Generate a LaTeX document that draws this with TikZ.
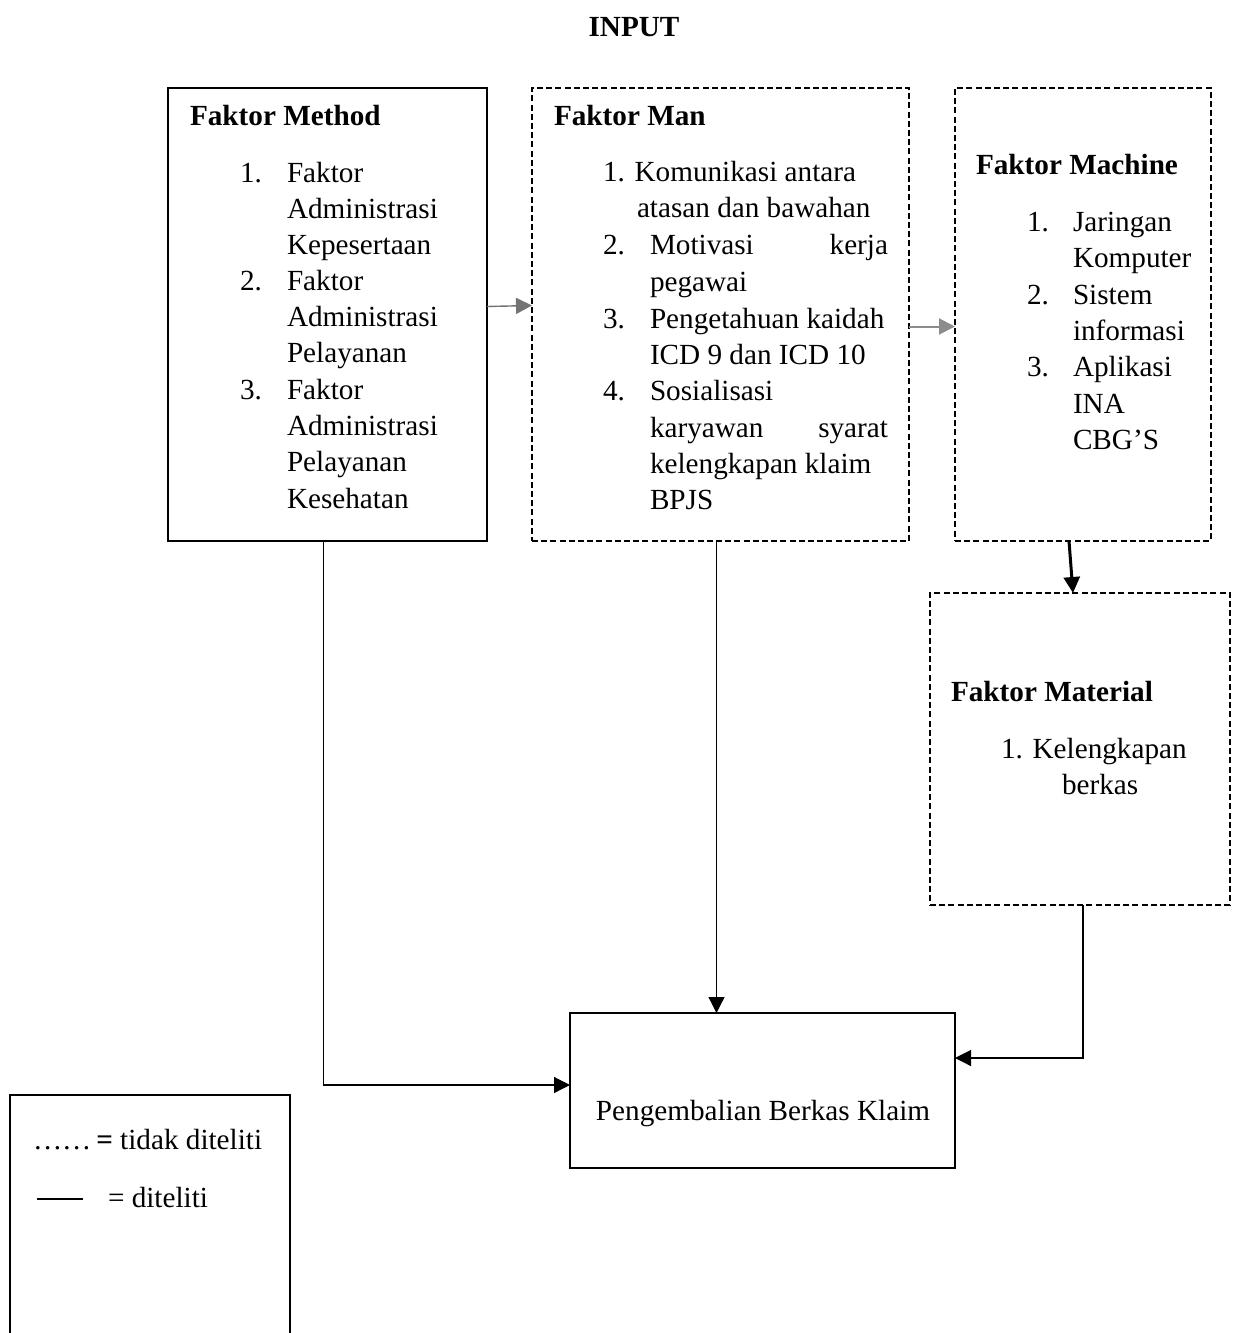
\documentclass[tikz,border=0pt]{standalone}
\usepackage{fontspec}
\setmainfont{Liberation Serif}
\usetikzlibrary{arrows.meta,calc}
\begin{document}
\begin{tikzpicture}[x=0.5pt,y=-0.5pt,
  every node/.style={font=\fontsize{14.6}{18}\selectfont, inner sep=0pt, outer sep=0pt},
  solidbox/.style={draw=black, line width=1.4pt, rectangle},
  dashbox/.style={draw=black, line width=1.4pt, rectangle, dash pattern=on 3pt off 1.6pt},
  txt/.style={anchor=base west},
  txtr/.style={anchor=base east},
  hd/.style={anchor=base west, font=\fontsize{14.6}{18}\selectfont\bfseries},
  tip/.style={-{Triangle[length=8pt,width=8pt]}},
  conn/.style={tip, line width=0.6pt, black},
]
\useasboundingbox (0,0) rectangle (1232,1333);

% title
\node[font=\fontsize{14.6}{18}\selectfont\bfseries, anchor=base] (title) at (634,36) {INPUT};

% boxes
\node[solidbox, minimum width=159.5pt, minimum height=226.5pt] (method) at (327.5,314.5) {};
\node[dashbox, minimum width=188.5pt, minimum height=226.5pt] (man) at (720.5,314.5) {};
\node[dashbox, minimum width=128pt, minimum height=226.5pt] (machine) at (1083,314.5) {};
\node[dashbox, minimum width=150pt, minimum height=156pt] (material) at (1080,749) {};
\node[solidbox, minimum width=192.5pt, minimum height=77.5pt] (peng) at (762.5,1090.5) {};

% Method text
\node[hd] (mh) at (190,125) {Faktor Method};
\node[txt] (m1n) at (240,182) {1.};
\node[txt] (m1a) at (287,182) {Faktor};
\node[txt] (m1b) at (287,218) {Administrasi};
\node[txt] (m1c) at (287,254) {Kepesertaan};
\node[txt] (m2n) at (240,290) {2.};
\node[txt] (m2a) at (287,290) {Faktor};
\node[txt] (m2b) at (287,326) {Administrasi};
\node[txt] (m2c) at (287,362) {Pelayanan};
\node[txt] (m3n) at (240,399) {3.};
\node[txt] (m3a) at (287,399) {Faktor};
\node[txt] (m3b) at (287,435) {Administrasi};
\node[txt] (m3c) at (287,471) {Pelayanan};
\node[txt] (m3d) at (287,508) {Kesehatan};

% Man text
\node[hd] (nh) at (554,125) {Faktor Man};
\node[txt] (n1a) at (603,181) {1. Komunikasi antara};
\node[txt] (n1b) at (637,217) {atasan dan bawahan};
\node[txt] (n2n) at (603,254) {2.};
\node[txt] (n2a) at (650,254) {Motivasi};
\node[txtr] (n2r) at (888,254) {kerja};
\node[txt] (n2b) at (650,291) {pegawai};
\node[txt] (n3n) at (603,328) {3.};
\node[txt] (n3a) at (650,328) {Pengetahuan kaidah};
\node[txt] (n3b) at (650,364) {ICD 9 dan ICD 10};
\node[txt] (n4n) at (603,400) {4.};
\node[txt] (n4a) at (650,400) {Sosialisasi};
\node[txt] (n4b) at (650,437) {karyawan};
\node[txtr] (n4r) at (888,437) {syarat};
\node[txt] (n4c) at (650,473) {kelengkapan klaim};
\node[txt] (n4d) at (650,509) {BPJS};

% Machine text
\node[hd] (ch) at (976,174) {Faktor Machine};
\node[txt] (c1n) at (1027,231) {1.};
\node[txt] (c1a) at (1073,231) {Jaringan};
\node[txt] (c1b) at (1073,267) {Komputer};
\node[txt] (c2n) at (1027,304) {2.};
\node[txt] (c2a) at (1073,304) {Sistem};
\node[txt] (c2b) at (1073,340) {informasi};
\node[txt] (c3n) at (1027,376) {3.};
\node[txt] (c3a) at (1073,376) {Aplikasi};
\node[txt] (c3b) at (1073,413) {INA};
\node[txt] (c3c) at (1073,449) {CBG’S};

% Material text
\node[hd] (th) at (951,701) {Faktor Material};
\node[txt] (t1a) at (1001,758) {1. Kelengkapan};
\node[txt] (t1b) at (1062,794) {berkas};

% Outcome text
\node[anchor=base] (pt) at (763,1120) {Pengembalian Berkas Klaim};

% connectors
\draw[tip, line width=0.7pt, draw=black!55] ([yshift=4pt]method.east) -- ([yshift=4.5pt]man.west);
\draw[tip, line width=1pt, draw=black!45] ([yshift=-6pt]man.east) -- ([yshift=-6pt]machine.west);
\draw[tip, line width=1.5pt] ([xshift=-7pt]machine.south) -- ([xshift=-3.5pt]material.north);
\draw[conn] ([xshift=-2pt]man.south) -- ([xshift=-2pt]man.south |- peng.north);
\draw[conn] ([xshift=-2pt]method.south) |- ([yshift=2.75pt]peng.west);
\draw[conn] ([xshift=1.5pt]material.south) |- ([yshift=16.25pt]peng.east);

% legend
\draw[line width=1.4pt] (10,1340) -- (10,1095) -- (290,1095) -- (290,1340);
\node[txt] (l1) at (33,1149) {……\,\textbf{=} tidak diteliti};
\coordinate (la) at (37,1199);
\coordinate (lb) at (83,1199);
\draw[line width=0.8pt] (la) -- (lb);
\node[txt] (l2) at (108,1207) {= diteliti};
\end{tikzpicture}
\end{document}
